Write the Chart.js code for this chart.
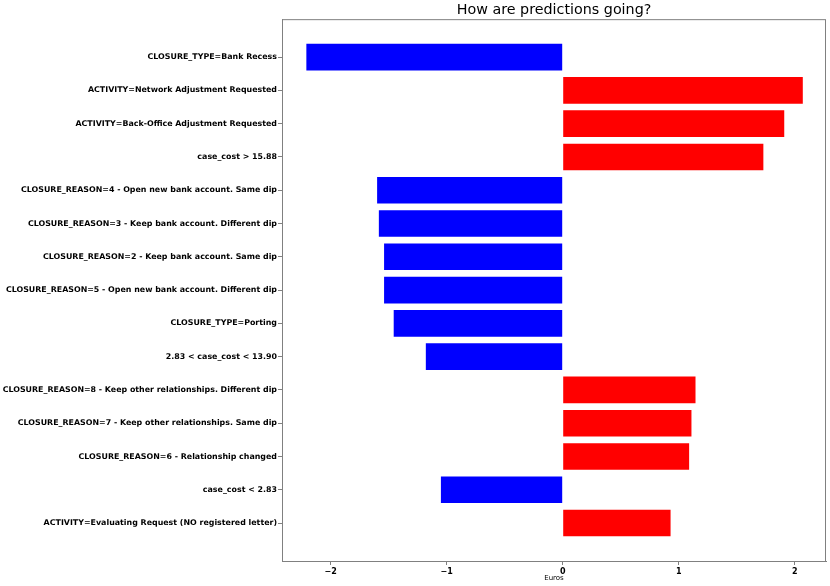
<!DOCTYPE html>
<html>
<head>
<meta charset="utf-8">
<script src="https://cdn.jsdelivr.net/npm/chart.js@4/dist/chart.umd.min.js"></script>
<style>
  html, body { margin: 0; padding: 0; background: #fff; }
  #wrap { width: 830px; height: 586px; }
</style>
</head>
<body>
<div id="wrap"><canvas id="grafico" width="830" height="586"></canvas></div>
<script>
const etiquetas = [
  'CLOSURE_TYPE=Bank Recess',
  'ACTIVITY=Network Adjustment Requested',
  'ACTIVITY=Back-Office Adjustment Requested',
  'case_cost > 15.88',
  'CLOSURE_REASON=4 - Open new bank account. Same dip',
  'CLOSURE_REASON=3 - Keep bank account. Different dip',
  'CLOSURE_REASON=2 - Keep bank account. Same dip',
  'CLOSURE_REASON=5 - Open new bank account. Different dip',
  'CLOSURE_TYPE=Porting',
  '2.83 < case_cost < 13.90',
  'CLOSURE_REASON=8 - Keep other relationships. Different dip',
  'CLOSURE_REASON=7 - Keep other relationships. Same dip',
  'CLOSURE_REASON=6 - Relationship changed',
  'case_cost < 2.83',
  'ACTIVITY=Evaluating Request (NO registered letter)'
];
const valores = [-2.21, 2.07, 1.91, 1.73, -1.60, -1.585, -1.54, -1.54, -1.457, -1.18, 1.145, 1.11, 1.09, -1.05, 0.93];
const ticksX = [-2, -1, 0, 1, 2];

const colores = valores.map(v => v < 0 ? '#0000ff' : '#ff0000');

// marco gris alrededor del área del gráfico
const marco = {
  id: 'marco',
  afterDraw(chart) {
    const a = chart.chartArea;
    const ctx = chart.ctx;
    ctx.save();
    ctx.strokeStyle = '#808080';
    ctx.lineWidth = 1;
    ctx.strokeRect(a.left + 0.5, a.top + 0.5, a.right - a.left - 1, a.bottom - a.top);
    ctx.restore();
  }
};

new Chart(document.getElementById('grafico'), {
  type: 'bar',
  data: {
    datasets: [{
      data: valores.map((v, i) => ({ x: v, y: i })),
      backgroundColor: colores,
      borderWidth: 0,
      barPercentage: 0.8,
      categoryPercentage: 1
    }]
  },
  options: {
    indexAxis: 'y',
    responsive: false,
    animation: false,
    layout: { padding: { left: 0, right: 4, top: 0, bottom: 0 } },
    plugins: {
      legend: { display: false },
      tooltip: { enabled: false },
      title: {
        display: true,
        text: 'How are predictions going?',
        fullSize: false,
        color: '#000',
        font: { family: 'DejaVu Sans', size: 14.3, weight: 'normal' },
        padding: { top: 1.5, bottom: 0.5 }
      }
    },
    scales: {
      x: {
        type: 'linear',
        min: -2.42,
        max: 2.27,
        afterBuildTicks: s => { s.ticks = ticksX.map(v => ({ value: v })); },
        afterFit: s => { s.height = 25; },
        ticks: {
          color: '#000',
          font: { family: 'DejaVu Sans', size: 8, weight: 'bold' },
          padding: 2,
          callback: v => String(v).replace('-', '\u2212')
        },
        grid: { display: true, drawOnChartArea: false, drawTicks: true, tickLength: 4, color: '#808080' },
        border: { display: true, color: '#808080' },
        title: {
          display: true,
          text: 'Euros',
          color: '#000',
          font: { family: 'DejaVu Sans', size: 7 },
          padding: { top: 0, bottom: 4 }
        }
      },
      y: {
        type: 'linear',
        reverse: true,
        offset: false,
        min: -1.14,
        max: 15.14,
        afterBuildTicks: s => { s.ticks = etiquetas.map((_, i) => ({ value: i })); },
        afterFit: s => { s.width = 282; },
        ticks: {
          color: '#000',
          font: { family: 'DejaVu Sans', size: 7.9, weight: 'bold' },
          padding: 1,
          autoSkip: false,
          callback: v => etiquetas[v]
        },
        grid: { display: true, offset: false, drawOnChartArea: false, drawTicks: true, tickLength: 4, color: '#808080' },
        border: { display: true, color: '#808080' }
      }
    }
  },
  plugins: [marco]
});
</script>
</body>
</html>
